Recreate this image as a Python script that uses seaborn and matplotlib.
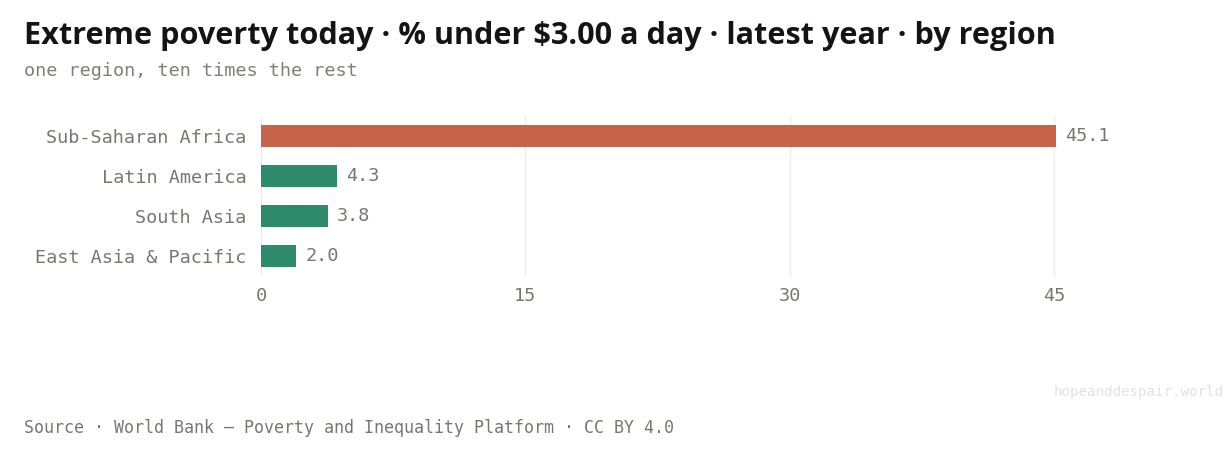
import matplotlib
matplotlib.use("Agg")
import matplotlib.pyplot as plt
import seaborn as sns
import pandas as pd
from matplotlib import font_manager as fm

regions = ["Sub-Saharan Africa", "Latin America", "South Asia", "East Asia & Pacific"]
values = [45.1, 4.3, 3.8, 2.0]
highlight = ["hi", "lo", "lo", "lo"]
xticks = [0, 15, 30, 45]

title = "Extreme poverty today · % under $3.00 a day · latest year · by region"
subtitle = "one region, ten times the rest"
source = "Source · World Bank — Poverty and Inequality Platform · CC BY 4.0"
watermark = "hopeanddespair.world"

RED = "#C8644A"
GREEN = "#2E8B69"
GRAY = "#77776F"

sns.set_theme(style="white")
plt.rcParams["font.family"] = ["DejaVu Sans Mono", "DejaVu Sans"]

# pick a bold sans family that actually has a bold face installed
title_family = "DejaVu Sans"
for fam in ["Noto Sans", "Open Sans", "Lato", "Roboto"]:
    try:
        path = fm.findfont(fm.FontProperties(family=fam, weight="bold"), fallback_to_default=False)
        if "bold" in path.lower():
            title_family = fam
            break
    except Exception:
        pass

W, H = 1227, 451
fig = plt.figure(figsize=(W / 100, H / 100), dpi=100)
fig.patch.set_facecolor("white")

xmax = 48
left = 261 / W
px_per_unit = (1054 - 261) / 45
right = (261 + xmax * px_per_unit) / W
top = 1 - 116 / H
bottom = 1 - 276 / H
ax = fig.add_axes([left, bottom, right - left, top - bottom])

df = pd.DataFrame({"region": regions, "value": values, "grp": highlight})
sns.barplot(data=df, x="value", y="region", hue="grp",
            palette={"hi": RED, "lo": GREEN}, width=0.57, legend=False,
            ax=ax, saturation=1, linewidth=0)

ax.set_xlim(0, xmax)
ax.set_ylim(3.5, -0.5)
ax.set_xticks(xticks)
ax.set_xticklabels([str(t) for t in xticks])
ax.xaxis.grid(True, color="#EEEEEE", linewidth=1)
ax.set_axisbelow(True)
for s in ax.spines.values():
    s.set_visible(False)
ax.tick_params(axis="both", length=0, labelsize=13.3, labelcolor=GRAY)
ax.tick_params(axis="x", pad=8)
ax.tick_params(axis="y", pad=10.5)
ax.set_xlabel("")
ax.set_ylabel("")

for i, v in enumerate(values):
    ax.annotate(f"{v:.1f}", xy=(v, i), xytext=(6.5, 0), textcoords="offset points",
                va="center", ha="left", fontsize=13.3, color=GRAY)

fig.text(24 / W, 1 - 36 / H, title, fontsize=22.1, fontweight="bold",
         family=[title_family, "DejaVu Sans"], color="#141414", va="center", ha="left")
fig.text(24 / W, 1 - 71 / H, subtitle, fontsize=13.3, color="#7F7F7A",
         va="center", ha="left")
fig.text(24 / W, 1 - 428 / H, source, fontsize=11.95, color=GRAY, va="center", ha="left")
fig.text(1224 / W, 1 - 392 / H, watermark, fontsize=10.2, color="#E2E2E2",
         va="center", ha="right")

fig.savefig("out.png", dpi=100, facecolor="white")
